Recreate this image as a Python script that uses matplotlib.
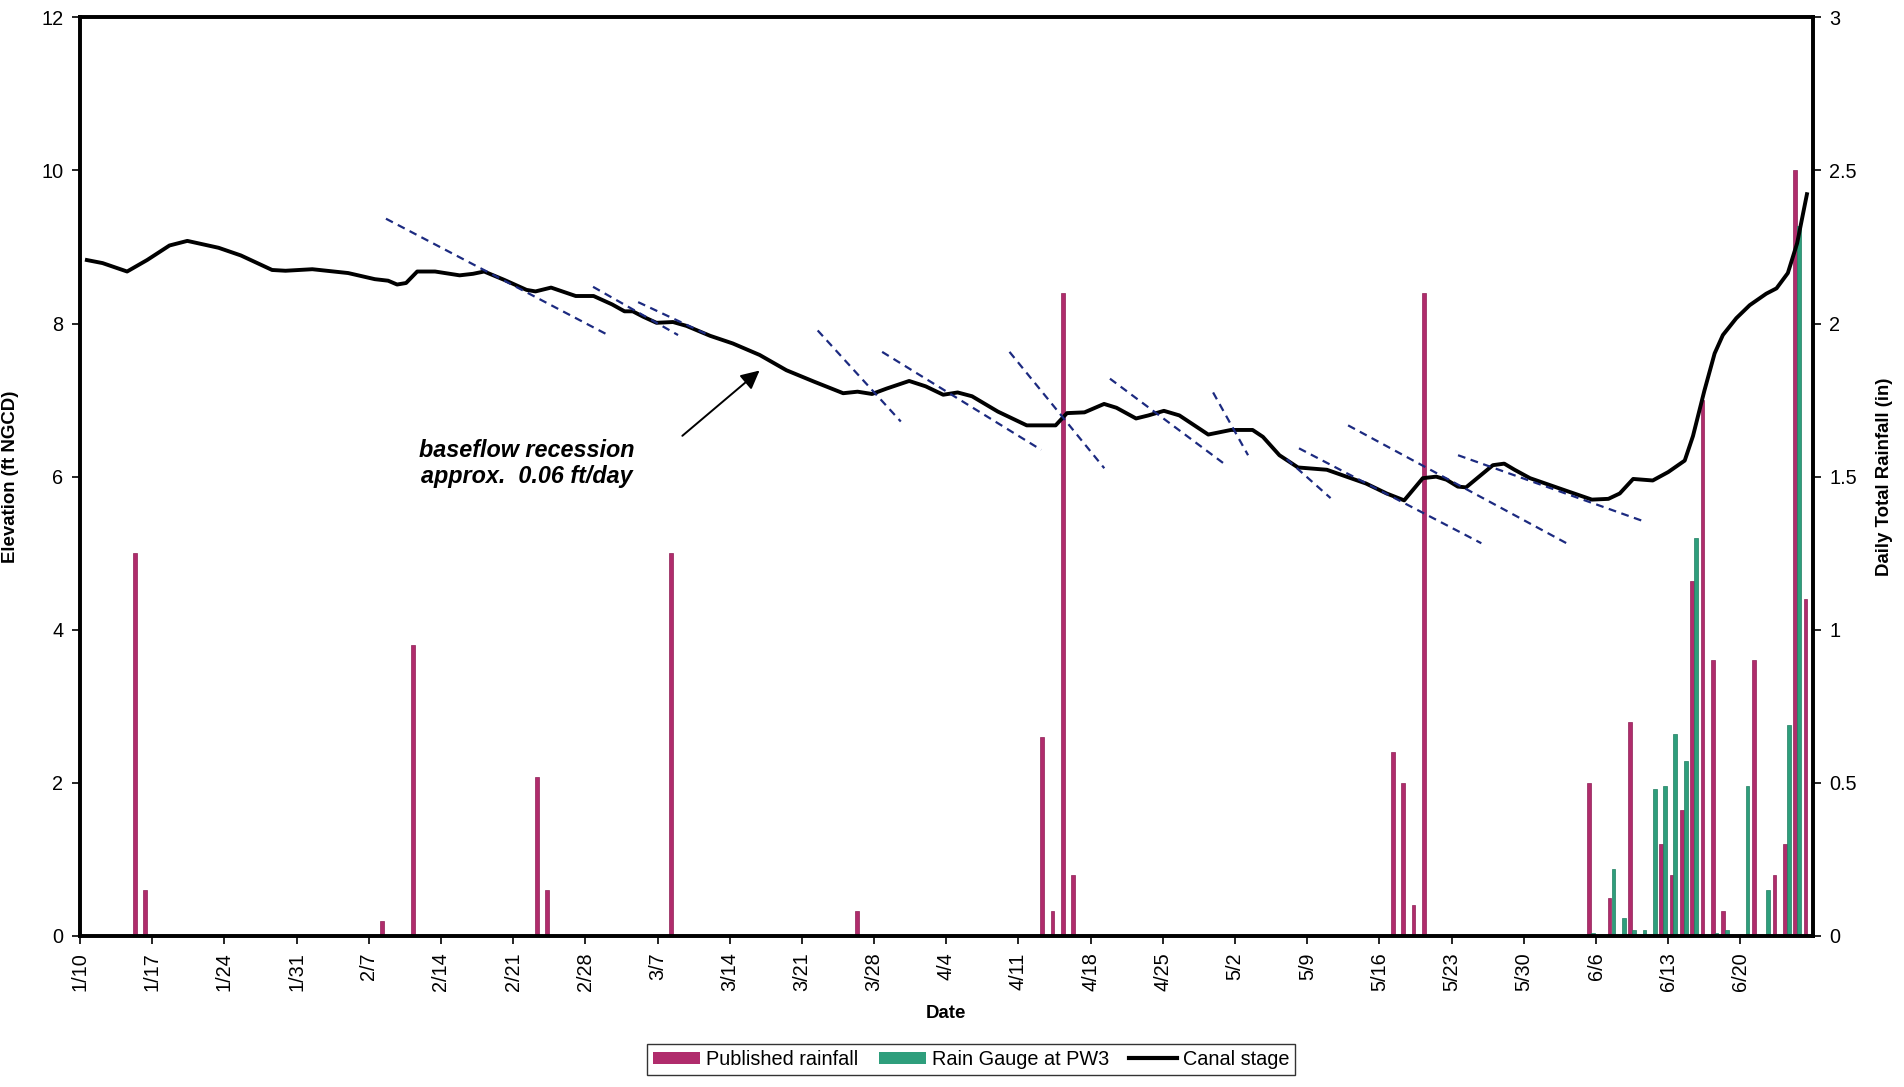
import datetime as dt
import matplotlib
matplotlib.use('Agg')
import matplotlib.pyplot as plt
from matplotlib import font_manager
from matplotlib.patches import Patch
from matplotlib.lines import Line2D

# ---- data ----
start = dt.date(2003, 1, 10)

tick_labels = ['1/10', '1/17', '1/24', '1/31', '2/7', '2/14', '2/21', '2/28',
               '3/7', '3/14', '3/21', '3/28', '4/4', '4/11', '4/18', '4/25',
               '5/2', '5/9', '5/16', '5/23', '5/30', '6/6', '6/13', '6/20']

pub_dates = ['1/15', '1/16', '2/8', '2/11', '2/23', '2/24', '3/8', '3/26',
             '4/13', '4/14', '4/15', '4/16', '5/17', '5/18', '5/19', '5/20',
             '6/5', '6/7', '6/9', '6/12', '6/13', '6/14', '6/15', '6/16',
             '6/17', '6/18', '6/21', '6/23', '6/24', '6/25', '6/26']
pub_rain = [1.25, 0.15, 0.05, 0.95, 0.52, 0.15, 1.25, 0.08,
            0.65, 0.08, 2.1, 0.2, 0.6, 0.5, 0.1, 2.1,
            0.5, 0.125, 0.7, 0.3, 0.2, 0.41, 1.16, 1.75,
            0.9, 0.08, 0.9, 0.2, 0.3, 2.5, 1.1]

gauge_dates = ['6/5', '6/7', '6/8', '6/9', '6/10', '6/11', '6/12', '6/13',
               '6/14', '6/15', '6/17', '6/18', '6/20', '6/22', '6/24', '6/25']
gauge_rain = [0.01, 0.22, 0.06, 0.02, 0.02, 0.48, 0.49, 0.66,
              0.57, 1.30, 0.01, 0.02, 0.49, 0.15, 0.69, 2.32]

# canal stage: days after 1/10, elevation (ft NGCD)
stage_day = [0.67, 2.19, 4.57, 6.51, 8.68, 10.41, 13.44, 15.6, 18.63, 19.93,
             22.53, 26.0, 28.59, 29.88, 30.75, 31.62, 32.7, 34.43, 36.81, 38.11,
             39.19, 41.15, 43.3, 44.17, 45.68, 48.07, 49.8, 51.6, 52.8, 53.6,
             54.6, 55.9, 57.5, 58.8, 61.1, 63.3, 65.9, 68.5, 71.2, 74.0,
             75.4, 76.8, 78.2, 80.4, 82.0, 83.7, 85.1, 86.5, 89.0, 91.8,
             94.6, 95.7, 97.4, 99.3, 100.5, 102.4, 103.6, 105.1, 106.6, 109.4,
             111.6, 113.7, 114.7, 116.3, 118.1, 120.9, 122.8, 124.7, 126.7, 128.4,
             130.2, 131.5, 132.5, 133.6, 134.4, 137.0, 138.1, 139.1, 140.6, 143.8,
             146.6, 148.2, 149.3, 150.6, 152.5, 154.0, 155.6, 156.4, 157.5, 158.5,
             159.3, 160.6, 161.9, 163.5, 164.5, 165.6, 166.5, 167.45]
stage_ft = [8.83, 8.79, 8.68, 8.83, 9.02, 9.08, 8.99, 8.89, 8.70, 8.69,
            8.71, 8.66, 8.58, 8.56, 8.51, 8.53, 8.68, 8.68, 8.63, 8.65,
            8.68, 8.57, 8.44, 8.42, 8.47, 8.36, 8.36, 8.25, 8.16, 8.16,
            8.09, 8.01, 8.02, 7.97, 7.84, 7.74, 7.59, 7.39, 7.24, 7.09,
            7.11, 7.08, 7.15, 7.25, 7.18, 7.07, 7.10, 7.05, 6.85, 6.67,
            6.67, 6.83, 6.84, 6.95, 6.90, 6.76, 6.80, 6.86, 6.80, 6.55,
            6.61, 6.61, 6.52, 6.28, 6.12, 6.09, 6.00, 5.91, 5.78, 5.69,
            5.98, 6.00, 5.96, 5.87, 5.86, 6.15, 6.17, 6.09, 5.98, 5.83,
            5.70, 5.71, 5.78, 5.97, 5.95, 6.06, 6.21, 6.53, 7.12, 7.61,
            7.85, 8.07, 8.24, 8.39, 8.46, 8.66, 9.05, 9.69]

# baseflow recession guide lines (day, ft) start -> end
rec_x0 = [29.67, 49.75, 54.12, 71.53, 77.78, 90.13, 99.87, 109.87, 117.0, 118.2, 122.96, 133.62]
rec_y0 = [9.37, 8.48, 8.28, 7.91, 7.63, 7.63, 7.28, 7.10, 6.23, 6.37, 6.67, 6.28]
rec_x1 = [51.21, 57.99, 61.1, 79.59, 93.2, 99.32, 110.83, 113.26, 121.26, 135.88, 144.28, 151.55]
rec_y1 = [7.85, 7.85, 7.84, 6.72, 6.35, 6.11, 6.18, 6.28, 5.72, 5.13, 5.12, 5.42]


def day(md):
    m, d = md.split('/')
    return (dt.date(2003, int(m), int(d)) - start).days


# ---- fonts ----
names = {f.name for f in font_manager.fontManager.ttflist}
if 'Liberation Sans Narrow' in names:
    fam, k = 'Liberation Sans Narrow', 1.0
else:
    fam, k = 'Liberation Sans', 0.84
plt.rcParams['font.family'] = [fam, 'DejaVu Sans']

magenta = '#B02C6C'
green = '#2E9E7C'
navy = '#1C2A80'

fig = plt.figure(figsize=(19.04, 10.87), dpi=100)
fig.subplots_adjust(left=0.042, right=0.952, top=0.984, bottom=0.139)
ax = fig.add_subplot(111)
ax2 = ax.twinx()
ax.set_zorder(ax2.get_zorder() + 1)
ax.patch.set_visible(False)

# rainfall bars on right axis
ax2.bar([day(s) + 0.31 for s in pub_dates], pub_rain, width=0.36,
        color=magenta, edgecolor='#8E1F55', linewidth=0.5)
ax2.bar([day(s) + 0.69 for s in gauge_dates], gauge_rain, width=0.36,
        color=green, edgecolor='#1F7E60', linewidth=0.5)
ax2.set_ylim(0, 3)
ax2.set_yticks([0, 0.5, 1, 1.5, 2, 2.5, 3])
ax2.set_yticklabels(['0', '0.5', '1', '1.5', '2', '2.5', '3'])
ax2.set_ylabel('Daily Total Rainfall (in)', fontsize=16 * k, fontweight='bold',
               labelpad=14)

# canal stage + recession lines on left axis
ax.plot(stage_day, stage_ft, color='black', lw=2.8, solid_joinstyle='round')
for x0, y0, x1, y1 in zip(rec_x0, rec_y0, rec_x1, rec_y1):
    ax.plot([x0, x1], [y0, y1], color=navy, lw=1.6, dashes=(3.5, 2.5))

ax.annotate('', xy=(66.1, 7.41), xytext=(58.2, 6.51),
            arrowprops=dict(arrowstyle='-|>', color='black', lw=1.4,
                            mutation_scale=28))
ax.text(43.3, 6.17, 'baseflow recession\napprox.  0.06 ft/day', ha='center',
        va='center', fontsize=20 * k, fontweight='bold', style='italic',
        linespacing=1.15)

ax.set_xlim(0, 168)
ax.set_ylim(0, 12)
ax.set_yticks(range(0, 13, 2))
ax.set_xticks([day(s) for s in tick_labels])
ax.set_xticklabels(tick_labels, rotation=90)
ax.set_xlabel('Date', fontsize=16 * k, fontweight='bold', labelpad=10)
ax.set_ylabel('Elevation (ft NGCD)', fontsize=16 * k, fontweight='bold',
              labelpad=16)

for a in (ax, ax2):
    for sp in a.spines.values():
        sp.set_linewidth(2.6)
    a.tick_params(direction='out', length=6, width=1.2,
                  labelsize=17 * k, pad=6)

handles = [Patch(facecolor=magenta), Patch(facecolor=green),
           Line2D([], [], color='black', lw=3)]
fig.legend(handles, ['Published rainfall', 'Rain Gauge at PW3', 'Canal stage'],
           loc='lower center', bbox_to_anchor=(0.51, 0.002), ncol=3,
           fontsize=17 * k, frameon=True, fancybox=False, edgecolor='black',
           handlelength=2.4, handleheight=0.6, columnspacing=1.0,
           handletextpad=0.3, borderpad=0.3).get_frame().set_linewidth(1.0)

fig.savefig('out.png', dpi=100)
